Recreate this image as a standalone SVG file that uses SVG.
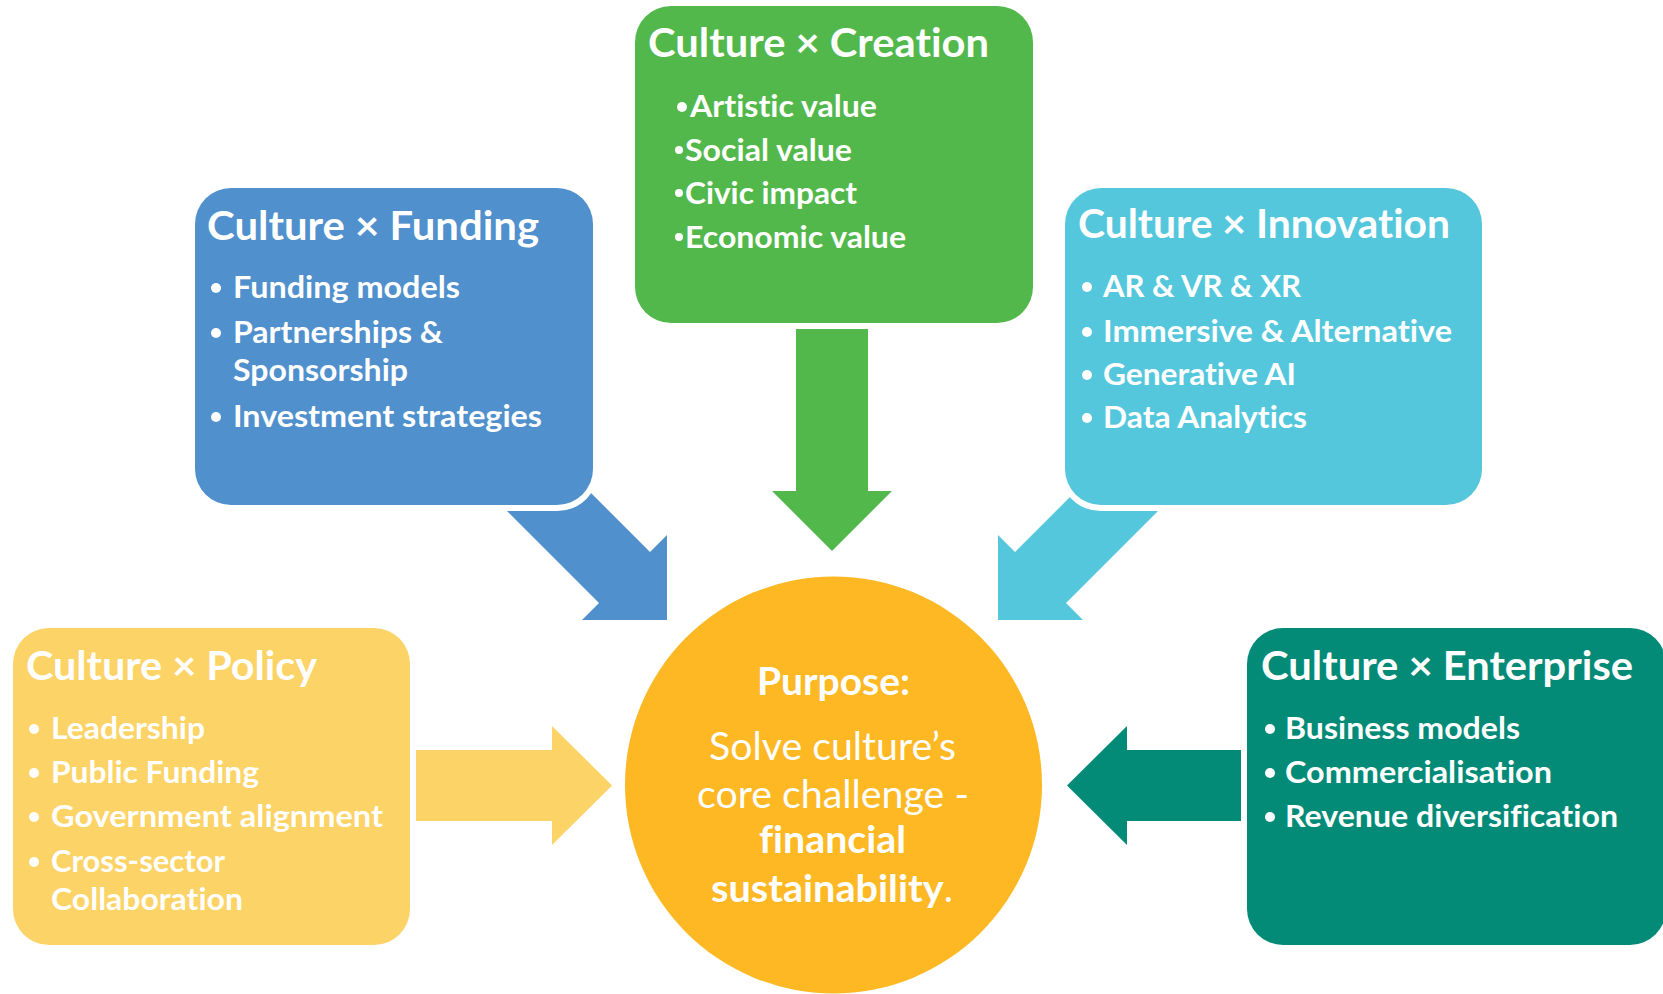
<svg xmlns="http://www.w3.org/2000/svg" width="1663" height="994" viewBox="0 0 1663 994">
<style>
text{font-family:Lato,"Open Sans","Liberation Sans",sans-serif;fill:#fff;font-variant-ligatures:none;font-feature-settings:"liga" 0,"clig" 0,"dlig" 0,"calt" 0,"hlig" 0}
.t{font-size:41px;font-weight:700}
.b{font-size:31px;font-weight:700}
.c{font-size:38px}
.bold{font-weight:700}
.box{stroke:#fff;stroke-width:12;paint-order:stroke}
.dot{fill:#fff}
</style>
<rect width="1663" height="994" fill="#fff"/>
<g id="connectors">
<polygon fill="#5090CD" points="494.5,498.5 599,603 582,620 667,620 667,535 650,552 545.5,447.5"/>
<polygon fill="#55C7DC" points="1170.5,498.5 1066,603 1083,620 998,620 998,535 1015,552 1119.5,447.5"/>
<polygon fill="#52B84B" points="796,328 868,328 868,491 892,491 832,551 772,491 796,491"/>
<polygon fill="#FCD366" points="416,750 552,750 552,726 612,785.5 552,845 552,821 416,821"/>
<polygon fill="#038B78" points="1242,750 1127,750 1127,726 1067,785.5 1127,845 1127,821 1242,821"/>
</g>
<g id="node-funding">
<rect class="box" x="195" y="188" width="398" height="317" rx="36" fill="#5090CD"/>
<text class="t" x="207" y="240" textLength="332" lengthAdjust="spacingAndGlyphs">Culture × Funding</text>
<circle class="dot" cx="216" cy="288" r="5"/>
<text class="b" x="233" y="298" textLength="227" lengthAdjust="spacingAndGlyphs">Funding models</text>
<circle class="dot" cx="216" cy="333" r="5"/>
<text class="b" x="233" y="343" textLength="210" lengthAdjust="spacingAndGlyphs">Partnerships &amp;</text>
<text class="b" x="233" y="381" textLength="175" lengthAdjust="spacingAndGlyphs">Sponsorship</text>
<circle class="dot" cx="216" cy="417" r="5"/>
<text class="b" x="233" y="427" textLength="309" lengthAdjust="spacingAndGlyphs">Investment strategies</text>
</g>
<g id="node-creation">
<rect class="box" x="635" y="6" width="398" height="317" rx="36" fill="#52B84B"/>
<text class="t" x="648" y="57" textLength="341" lengthAdjust="spacingAndGlyphs">Culture × Creation</text>
<circle class="dot" cx="682" cy="107" r="5"/>
<text class="b" x="690" y="117" textLength="187" lengthAdjust="spacingAndGlyphs">Artistic value</text>
<circle class="dot" cx="679" cy="150" r="4"/>
<text class="b" x="685" y="161" textLength="167" lengthAdjust="spacingAndGlyphs">Social value</text>
<circle class="dot" cx="679" cy="193" r="4"/>
<text class="b" x="685" y="204" textLength="172" lengthAdjust="spacingAndGlyphs">Civic impact</text>
<circle class="dot" cx="679" cy="237" r="4"/>
<text class="b" x="685" y="248" textLength="221" lengthAdjust="spacingAndGlyphs">Economic value</text>
</g>
<g id="node-innovation">
<rect class="box" x="1065" y="188" width="417" height="317" rx="36" fill="#55C7DC"/>
<text class="t" x="1078" y="238" textLength="372" lengthAdjust="spacingAndGlyphs">Culture × Innovation</text>
<circle class="dot" cx="1087" cy="287" r="5"/>
<text class="b" x="1103" y="297" textLength="198" lengthAdjust="spacingAndGlyphs">AR &amp; VR &amp; XR</text>
<circle class="dot" cx="1087" cy="332" r="5"/>
<text class="b" x="1103" y="342" textLength="349" lengthAdjust="spacingAndGlyphs">Immersive &amp; Alternative</text>
<circle class="dot" cx="1087" cy="375" r="5"/>
<text class="b" x="1103" y="385" textLength="193" lengthAdjust="spacingAndGlyphs">Generative AI</text>
<circle class="dot" cx="1087" cy="418" r="5"/>
<text class="b" x="1103" y="428" textLength="204" lengthAdjust="spacingAndGlyphs">Data Analytics</text>
</g>
<g id="node-policy">
<rect class="box" x="13" y="628" width="397" height="317" rx="36" fill="#FCD366"/>
<text class="t" x="26" y="680" textLength="291" lengthAdjust="spacingAndGlyphs">Culture × Policy</text>
<circle class="dot" cx="34" cy="729" r="5"/>
<text class="b" x="51" y="739" textLength="154" lengthAdjust="spacingAndGlyphs">Leadership</text>
<circle class="dot" cx="34" cy="773" r="5"/>
<text class="b" x="51" y="783" textLength="208" lengthAdjust="spacingAndGlyphs">Public Funding</text>
<circle class="dot" cx="34" cy="817" r="5"/>
<text class="b" x="51" y="827" textLength="332" lengthAdjust="spacingAndGlyphs">Government alignment</text>
<circle class="dot" cx="34" cy="862" r="5"/>
<text class="b" x="51" y="872" textLength="174" lengthAdjust="spacingAndGlyphs">Cross-sector</text>
<text class="b" x="51" y="910" textLength="192" lengthAdjust="spacingAndGlyphs">Collaboration</text>
</g>
<g id="node-enterprise">
<rect class="box" x="1247" y="628" width="419" height="317" rx="36" fill="#038B78"/>
<text class="t" x="1261" y="680" textLength="372" lengthAdjust="spacingAndGlyphs">Culture × Enterprise</text>
<circle class="dot" cx="1270" cy="729" r="5"/>
<text class="b" x="1285" y="739" textLength="235" lengthAdjust="spacingAndGlyphs">Business models</text>
<circle class="dot" cx="1270" cy="773" r="5"/>
<text class="b" x="1285" y="783" textLength="267" lengthAdjust="spacingAndGlyphs">Commercialisation</text>
<circle class="dot" cx="1270" cy="817" r="5"/>
<text class="b" x="1285" y="827" textLength="333" lengthAdjust="spacingAndGlyphs">Revenue diversification</text>
</g>
<g id="node-purpose">
<circle cx="833.5" cy="785" r="208.5" fill="#FDB823"/>
<text class="c bold" x="757" y="695" textLength="153" lengthAdjust="spacingAndGlyphs">Purpose:</text>
<text class="c" x="709" y="760" textLength="247" lengthAdjust="spacingAndGlyphs">Solve culture’s</text>
<text class="c" x="697" y="808" textLength="272" lengthAdjust="spacingAndGlyphs">core challenge -</text>
<text class="c bold" x="759" y="853" textLength="147" lengthAdjust="spacingAndGlyphs">financial</text>
<text class="c" x="711" y="902" textLength="242" lengthAdjust="spacingAndGlyphs"><tspan class="bold">sustainability</tspan>.</text>
</g>
</svg>
